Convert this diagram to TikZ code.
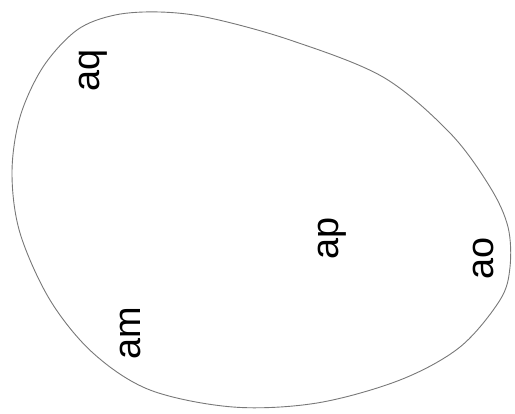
\documentclass[tikz,border=0pt]{standalone}
\usepackage{fontspec}
\setmainfont{Liberation Sans}
\usepackage{tikz}
\usetikzlibrary{positioning}
\definecolor{blobgray}{RGB}{120,120,120}

\begin{document}
\begin{tikzpicture}[
    x=1bp, y=-1bp,
    blob/.style={draw=blobgray, line width=0.9bp},
    lbl/.style={rotate=90, inner sep=0pt, font=\fontsize{38}{38}\selectfont},
]
    \useasboundingbox (0,0) rectangle (515,413);

    % Outline
    \draw[blob] plot[smooth cycle, tension=0.55] coordinates {
        (115,15) (160,12) (210,18) (290,40) (383,77) (450,133) (490,187)
        (508,227) (510,267) (500,300) (460,347) (400,380) (317,403)
        (233,407) (150,390) (93,353) (50,300) (20,233) (12,173)
        (20,117) (43,67) (77,30)
    };

    % Labels
    \node[lbl] (aq) at (93,70) {aq};
    \node[lbl] (am) at (130,333) {am};
    \node[lbl] (ap) at (332,238) {ap};
    \node[lbl] (ao) at (483,258) {ao};
\end{tikzpicture}
\end{document}
